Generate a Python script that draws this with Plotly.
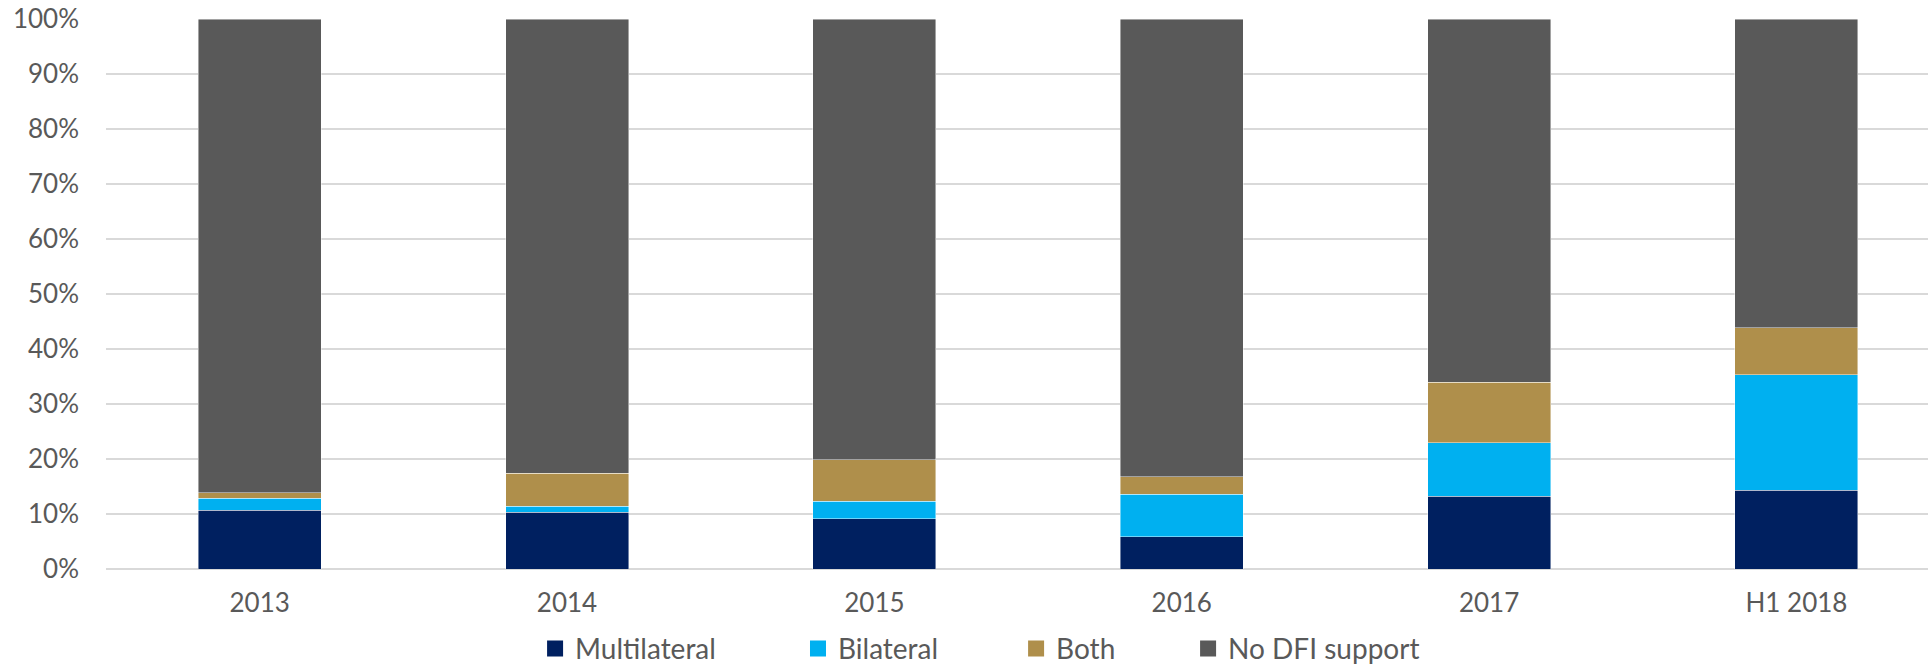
import plotly.graph_objects as go

# Share of deals by type of DFI support
years = ["2013", "2014", "2015", "2016", "2017", "H1 2018"]
multilateral = [0.107, 0.103, 0.091, 0.059, 0.132, 0.143]
bilateral = [0.0215, 0.0115, 0.032, 0.077, 0.098, 0.210]
both = [0.0105, 0.060, 0.076, 0.032, 0.110, 0.086]
no_dfi = [0.861, 0.8255, 0.801, 0.832, 0.660, 0.561]

series = [
    ("Multilateral", multilateral, "#002060"),
    ("Bilateral", bilateral, "#00B0F0"),
    ("Both", both, "#AF8F4B"),
    ("No DFI support", no_dfi, "#595959"),
]

FONT = "Lato, 'Open Sans', sans-serif"
TEXT = "#595959"

# each legend entry gets its own legend box so the spacing can be set freely
legend_ids = ["legend", "legend2", "legend3", "legend4"]
legend_x = [0.2355, 0.3798, 0.4995, 0.5939]

fig = go.Figure()
for name, vals, color in series:
    fig.add_trace(go.Bar(
        x=years, y=vals, name=name, showlegend=False,
        marker=dict(color=color, line=dict(color="rgba(255,255,255,0.55)", width=0.8)),
    ))
for (name, vals, color), lid in zip(series, legend_ids):
    fig.add_trace(go.Scatter(
        x=[None], y=[None], mode="markers", name=name, legend=lid,
        marker=dict(symbol="square", size=16, color=color),
    ))

legend_style = dict(
    orientation="h", xanchor="left",
    yref="container", y=0.026, yanchor="middle",
    font=dict(size=28, color=TEXT), itemsizing="trace",
    bgcolor="rgba(0,0,0,0)",
)
legends = {lid: dict(legend_style, x=lx) for lid, lx in zip(legend_ids, legend_x)}

fig.update_layout(
    width=1928, height=666,
    barmode="stack", bargap=0.6,
    plot_bgcolor="white", paper_bgcolor="white",
    margin=dict(l=106, r=0, t=19, b=97, autoexpand=False),
    font=dict(family=FONT, color=TEXT, size=26),
    xaxis=dict(
        range=[-0.5, 5.428], showgrid=False, showline=False, ticks="",
        tickfont=dict(size=26, color=TEXT), ticklabelstandoff=16,
    ),
    yaxis=dict(
        range=[0, 1], tickvals=[i / 10 for i in range(11)], tickformat=".0%",
        showgrid=True, gridcolor="#D9D9D9", gridwidth=2,
        zeroline=True, zerolinecolor="#D9D9D9", zerolinewidth=2,
        showline=False, ticks="", ticklabelstandoff=26,
        tickfont=dict(size=26, color=TEXT),
    ),
    **legends,
)

fig.write_html("out.html")
